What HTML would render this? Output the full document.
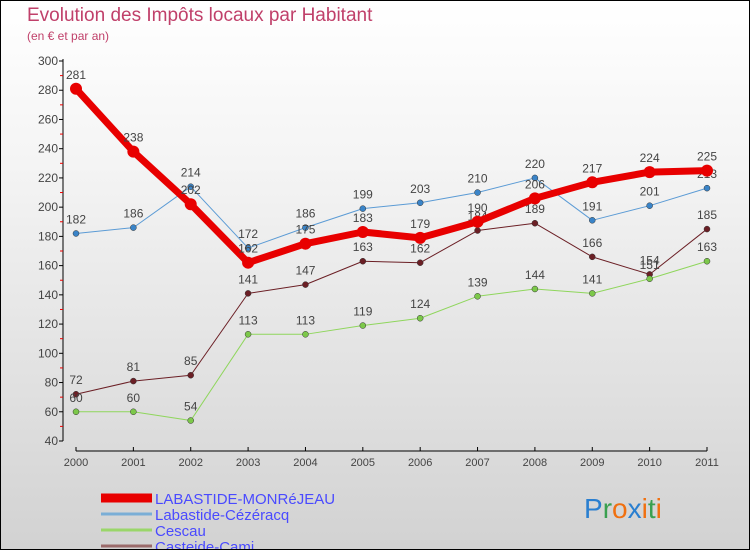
<!DOCTYPE html>
<html><head><meta charset="utf-8"><style>
body{margin:0}
#wrap{width:748px;height:548px;border:1px solid #000;background:linear-gradient(#fff 0%,#f4f4f4 30%,#d2d2d2 100%);position:relative;font-family:"Liberation Sans",sans-serif;overflow:hidden}
.t{position:absolute;left:26px;top:4px;font-size:19px;color:#c0406a}
.s{position:absolute;left:26px;top:28px;font-size:12px;color:#c0406a}
</style></head><body>
<div id="wrap">
<div class="t">Evolution des Impôts locaux par Habitant</div>
<div class="s">(en € et par an)</div>
<svg id="svg" width="748" height="548" style="position:absolute;left:0;top:0"></svg>
</div>
<script>
const years=["2000","2001","2002","2003","2004","2005","2006","2007","2008","2009","2010","2011"];
const lab=[281,238,202,162,175,183,179,190,206,217,224,225];
const cez=[182,186,214,172,186,199,203,210,220,191,201,213];
const ces=[60,60,54,113,113,119,124,139,144,141,151,163];
const cam=[72,81,85,141,147,163,162,184,189,166,154,185];
const yTicks=[40,60,80,100,120,140,160,180,200,220,240,260,280,300];
const names=["LABASTIDE-MONRéJEAU","Labastide-Cézéracq","Cescau","Casteide-Cami"];
const svg=document.getElementById('svg');const NS='http://www.w3.org/2000/svg';
const X=i=>75+i*(706-75)/11;const Y=v=>440-(v-40)*380/260;
function mk(t,a,p){const e=document.createElementNS(NS,t);for(const k in a)e.setAttribute(k,a[k]);(p||svg).appendChild(e);return e;}
let e=mk('line',{x1:62,y1:58,x2:62,y2:440,stroke:'#000'});


yTicks.forEach(v=>{mk('line',{x1:58,x2:62,y1:Y(v),y2:Y(v),stroke:'#000'});
 if(v<300)mk('line',{x1:59,x2:62,y1:Y(v+10),y2:Y(v+10),stroke:'#e00'});
 const t=mk('text',{x:57,y:Y(v)+4,'text-anchor':'end','font-size':12,fill:'#444'});t.textContent=v;
 
 });
e=mk('line',{x1:75,y1:450,x2:706,y2:450,stroke:'#000'});


years.forEach((y,i)=>{mk('line',{x1:X(i),x2:X(i),y1:446,y2:450,stroke:'#000'});
 const t=mk('text',{x:X(i),y:465,'text-anchor':'middle','font-size':11,fill:'#444'});t.textContent=y;
 
 });
const series=[[cam,'#6b1f25','#6b1f25',1,3,'casteide-cami'],[ces,'#8fd65c','#7cc84a',1,3,'cescau'],[cez,'#5b9bd5','#3a84c8',1,3,'labastide-cezeracq'],[lab,'#e80000','#e80000',7,6,'labastide-monrejeau']];
series.forEach(([d,c,fc,w,r,n])=>{
 const g=mk('g',{});
 
 
 mk('polyline',{points:d.map((v,i)=>X(i)+','+Y(v)).join(' '),fill:'none',stroke:c,'stroke-width':w,'stroke-linejoin':'round'},g);
 d.forEach((v,i)=>{const p=mk('circle',{cx:X(i),cy:Y(v),r:r,fill:fc,stroke:w>1?'none':'#333','stroke-width':0.5},g);
  
  
  const t=mk('text',{x:X(i),y:Y(v)-10,'text-anchor':'middle','font-size':12,fill:'#444'},g);t.textContent=v;
  
  });
});
const lc=['#e80000','#7aaed6','#9ad66a','#9a6a6a'],lw=[9,3,3,3];
names.forEach((n,i)=>{const y=495+i*16;
 const g=mk('g',{});
 
 
 mk('line',{x1:100,x2:151,y1:y+2,y2:y+2,stroke:lc[i],'stroke-width':lw[i]},g);
 const t=mk('text',{x:154,y:y+8,'font-size':15,fill:'#4a4aff'},g);t.textContent=n;});
const lg=mk('text',{x:583,y:517,'font-size':28,'font-family':'Liberation Sans'});


[['P','#2a7fd0'],['r','#3aa050'],['o','#f07010'],['x','#2a7fd0'],['i','#f07010'],['t','#3aa050'],['i','#f07010']].forEach(([c,f])=>{const s=mk('tspan',{fill:f},lg);s.textContent=c;});
</script>
</body></html>
